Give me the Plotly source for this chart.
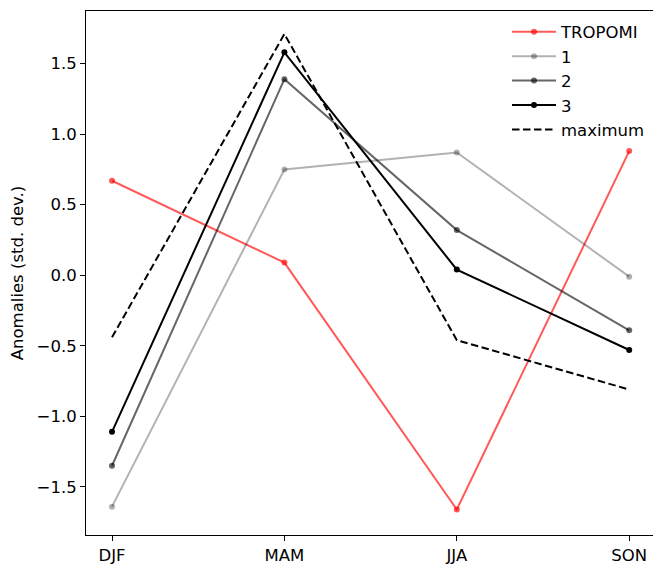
import plotly.graph_objects as go

# Seasonal anomalies (standard deviations) per season
seasons = ["DJF", "MAM", "JJA", "SON"]
tropomi = [0.67, 0.09, -1.66, 0.88]
series_1 = [-1.64, 0.75, 0.87, -0.01]
series_2 = [-1.35, 1.39, 0.32, -0.39]
series_3 = [-1.11, 1.58, 0.04, -0.53]
maximum = [-0.44, 1.71, -0.46, -0.81]

y_ticks = [-1.5, -1.0, -0.5, 0.0, 0.5, 1.0, 1.5]
y_tick_text = [f"{v:.1f}".replace("-", "\u2212") for v in y_ticks]

W, H = 653, 565
L, R, T, B = 86, 0, 10.5, 30
FONT = "DejaVu Sans"
FS = 16.5

fig = go.Figure()

styles = [
    ("TROPOMI", tropomi, "rgba(255,0,0,0.65)"),
    ("1", series_1, "rgba(0,0,0,0.3)"),
    ("2", series_2, "rgba(0,0,0,0.6)"),
    ("3", series_3, "rgba(0,0,0,1.0)"),
]
for i, (name, vals, col) in enumerate(styles):
    fig.add_trace(go.Scatter(
        x=seasons, y=vals, name=name, mode="lines+markers",
        line=dict(color=col, width=2),
        marker=dict(color=col, size=6, line=dict(width=0)),
        legendgroup=f"g{i}",
    ))

fig.add_trace(go.Scatter(
    x=seasons, y=maximum, name="maximum", mode="lines",
    line=dict(color="black", width=2, dash="7.5px,3.5px"),
    legendgroup="g4",
))

pw, ph = W - L - R, H - T - B

fig.update_layout(
    width=W, height=H,
    margin=dict(l=L, r=R, t=T, b=B),
    paper_bgcolor="white", plot_bgcolor="white",
    font=dict(family=FONT, size=FS, color="black"),
    showlegend=True,
    legend=dict(
        x=(507 - L) / pw, y=1 - (14 - T) / ph, xanchor="left", yanchor="top",
        bgcolor="rgba(0,0,0,0)", borderwidth=0,
        font=dict(family=FONT, size=FS, color="black"),
        itemwidth=44, tracegroupgap=0, traceorder="grouped",
    ),
    xaxis=dict(
        type="category", range=[-0.1508, 3.138],
        showline=True, linecolor="black", linewidth=1, mirror=True,
        ticks="outside", ticklen=5, tickwidth=1, tickcolor="black",
        showgrid=False, zeroline=False,
    ),
    yaxis=dict(
        range=[-1.841, 1.873],
        tickvals=y_ticks, ticktext=y_tick_text,
        showline=True, linecolor="black", linewidth=1, mirror=False,
        ticks="outside", ticklen=5, tickwidth=1, tickcolor="black",
        showgrid=False, zeroline=False,
        title=dict(text="Anomalies (std. dev.)", standoff=8,
                   font=dict(family=FONT, size=FS)),
    ),
)

fig.write_html("out.html")
